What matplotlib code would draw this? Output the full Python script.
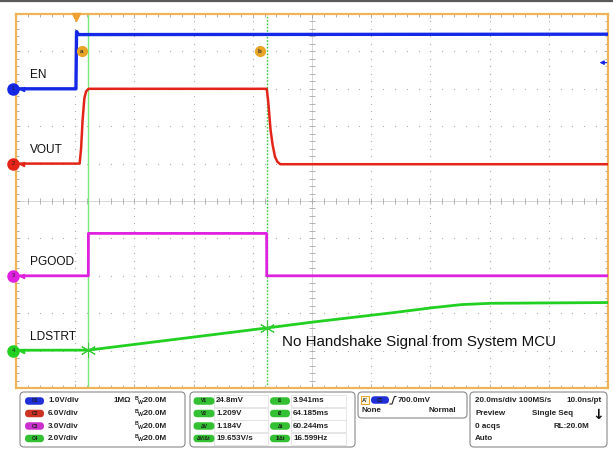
import numpy as np
import matplotlib.pyplot as plt
from matplotlib.patches import FancyBboxPatch, Rectangle

plt.rcParams['font.family'] = ['Liberation Sans', 'DejaVu Sans']

# screen window in ms, trigger at t = 0
T_START = -20.5
T_END = 179.5
MS_PER_DIV = 20.0

channels = ['EN', 'VOUT', 'PGOOD', 'LDSTRT']
volts_per_div = [1.0, 6.0, 3.0, 2.0]
ground_div = [8, 6, 3, 1]  # ground marker, divisions from bottom

# traces (t in ms, V in volts)
en_t = [-20.5, -0.25, -0.05, 0.6, 179.5]
en_v = [0.0, 0.0, 1.53, 1.45, 1.46]

vout_t = [-20.5, 1.0, 1.5, 2.0, 2.6, 3.2, 4.0, 64.2, 64.7, 65.5, 66.2, 67.0, 67.8, 68.8, 179.5]
vout_v = [0.0, 0.0, 2.5, 7.0, 10.5, 11.6, 12.0, 12.0, 10.0, 5.4, 3.0, 1.1, 0.3, -0.1, -0.1]

pgood_t = [-20.5, 3.94, 3.96, 64.18, 64.2, 179.5]
pgood_v = [0.0, 0.0, 3.4, 3.4, 0.0, 0.0]

ldstrt_t = [-20.5, 3.94, 64.19, 80.0, 107.0, 120.0, 130.0, 140.0, 160.0, 179.5]
ldstrt_v = [0.02, 0.025, 1.209, 1.53, 2.03, 2.29, 2.46, 2.53, 2.55, 2.57]

cursor_t = [3.941, 64.185]
cursor_v = [0.0248, 1.209]
cursor_names = ['a', 'b']
trigger_level = 0.7  # V on C1

note = 'No Handshake Signal from System MCU'

# readout panel
ch_pills = ['C1', 'C2', 'C3', 'C4']
ch_scales = ['1.0V/div', '6.0V/div', '3.0V/div', '2.0V/div']
v_names = ['V1', 'V2', 'ΔV', 'ΔV/Δt']
v_vals = ['24.8mV', '1.209V', '1.184V', '19.653V/s']
t_names = ['t1', 't2', 'Δt', '1/Δt']
t_vals = ['3.941ms', '64.185ms', '60.244ms', '16.599Hz']

trace_colors = ['#1428e6', '#e42418', '#e020e0', '#22d022']
pill_colors = ['#1f2fd8', '#cc3322', '#cc30cc', '#33c033']
ORANGE = '#f0b458'

W, H = 613, 449
fig = plt.figure(figsize=(W / 100, H / 100), dpi=100)

# pixel overlay for panel and frame decorations
ov = fig.add_axes([0, 0, 1, 1], zorder=0)
ov.set_xlim(0, W)
ov.set_ylim(H, 0)
ov.axis('off')

ax = fig.add_axes([16 / W, 1 - 388 / H, 592 / W, 374 / H], zorder=1)
ax.set_xlim(T_START, T_END)
ax.set_ylim(0, 10)

# graticule
major_x = T_START + MS_PER_DIV * np.arange(0, 11)
minor_x = T_START + MS_PER_DIV / 5 * np.arange(0, 51)
major_y = np.arange(0, 11)
minor_y = np.arange(0, 10.01, 0.2)
ax.set_xticks(major_x)
ax.set_xticks(minor_x, minor=True)
ax.set_yticks(major_y)
ax.set_yticks(minor_y, minor=True)
ax.tick_params(which='both', direction='in', top=True, right=True,
               labelbottom=False, labelleft=False, color='#a0a0a0', width=0.6)
ax.tick_params(which='major', length=3.2)
ax.tick_params(which='minor', length=2.0)
for s in ax.spines.values():
    s.set_color(ORANGE)
    s.set_linewidth(1.6)

gx, gy = [], []
for k in range(1, 10):
    if k == 5:
        continue
    gx += list(np.full(len(minor_y), major_x[k]))
    gy += list(minor_y)
    gx += list(minor_x)
    gy += list(np.full(len(minor_x), major_y[k]))
ax.scatter(gx, gy, s=0.8, color='#adadad', linewidths=0, zorder=1)

xc = major_x[5]
ax.axvline(xc, color='#d0d0d0', lw=0.6, zorder=1)
ax.axhline(5, color='#d0d0d0', lw=0.6, zorder=1)
ax.plot(np.full(len(minor_y), xc), minor_y, ls='none', marker='_', ms=5, mew=0.6, color='#a8a8a8', zorder=1)
ax.plot(minor_x, np.full(len(minor_x), 5), ls='none', marker='|', ms=5, mew=0.6, color='#a8a8a8', zorder=1)

# cursors
ax.axvline(cursor_t[0], color='#7aea7a', lw=1.0, zorder=2)
ax.axvline(cursor_t[1], color='#3cc83c', lw=1.0, ls=(0, (1.2, 1.2)), zorder=2)
for t, name in zip(cursor_t, cursor_names):
    ax.plot(t - 2.3, 9.0, 'o', ms=7, color='#e8a424', mec='#e8a424', zorder=5)
    ax.text(t - 2.3, 9.0, name, fontsize=4.5, ha='center', va='center', color='#333333',
            fontweight='bold', zorder=6)

# traces
series = [(en_t, en_v), (vout_t, vout_v), (pgood_t, pgood_v), (ldstrt_t, ldstrt_v)]
trace_widths = [2.4, 1.8, 2.0, 2.0]
for i, (t, v) in enumerate(series):
    y = ground_div[i] + np.asarray(v) / volts_per_div[i]
    ax.plot(t, y, color=trace_colors[i], lw=trace_widths[i], zorder=3, solid_joinstyle='round')
    # ground marker
    ax.plot(T_START - 1.0, ground_div[i], 'o', ms=8, color=trace_colors[i], clip_on=False, zorder=6)
    ax.text(T_START - 1.0, ground_div[i], str(i + 1), fontsize=4, ha='center', va='center',
            color='#222222', clip_on=False, zorder=7)
    ax.plot(T_START + 2.0, ground_div[i], marker='<', ms=3, color=trace_colors[i], zorder=6)
    ax.text(T_START + 4.6, ground_div[i] + 0.36, channels[i], fontsize=8.6, ha='left',
            va='center', color='#111111', zorder=6)

# cursor crossings on LDSTRT
ld_y = ground_div[3] + np.asarray(cursor_v) / volts_per_div[3]
ax.plot(cursor_t, ld_y, ls='none', marker=(6, 2, 0), ms=11, mew=0.7, color='#33cc33', zorder=5)

ax.text(69.4, 1.24, note, fontsize=10.9, ha='left', va='center', color='#111111', zorder=6)

# trigger position and level
ax.plot(-0.2, 9.92, marker='v', ms=6, color='#f0a030', clip_on=False, zorder=6)
y_trig = ground_div[0] + trigger_level / volts_per_div[0]
ax.annotate('', xy=(T_END - 3.8, y_trig), xytext=(T_END + 0.5, y_trig),
            arrowprops=dict(arrowstyle='-|>', color=trace_colors[0], lw=0.9,
                            mutation_scale=6), annotation_clip=False, zorder=6)

# top frame line
ov.plot([0, W], [1.3, 1.3], color='#5a5a5a', lw=1.6)

# readout panel
def box(x0, y0, x1, y1):
    ov.add_patch(FancyBboxPatch((x0, y0), x1 - x0, y1 - y0,
                                boxstyle='round,pad=0,rounding_size=4',
                                fc='white', ec='#8a8a8a', lw=0.8))


def pill(xc_, yc, w, h, color, label):
    ov.add_patch(FancyBboxPatch((xc_ - w / 2, yc - h / 2), w, h,
                                boxstyle='round,pad=0,rounding_size=%f' % (h / 2),
                                fc=color, ec='none'))
    ov.text(xc_, yc, label, fontsize=3.6, ha='center', va='center', color='#1a1a1a',
            fontweight='bold')


FS = 5.8
rows = [401, 413.5, 426, 438.5]
box(20, 392, 185, 447)
box(190, 392, 355, 447)
box(358, 392, 467, 418)
box(470, 392, 607, 447)

for r, p, sc, c in zip(rows, ch_pills, ch_scales, pill_colors):
    pill(34.5, r, 19, 7.5, c, p)
    ov.text(48, r, sc, fontsize=FS, fontweight='bold', va='center', color='#222222')
    ov.text(135, r - 2.2, 'B', fontsize=3.8, fontweight='bold', va='center', color='#222222')
    ov.text(137.6, r + 1.3, 'W', fontsize=3.8, fontweight='bold', va='center', color='#222222')
    ov.text(141.5, r, ':20.0M', fontsize=FS, fontweight='bold', va='center', color='#222222')
ov.text(113, rows[0], '1MΩ', fontsize=FS, fontweight='bold', va='center', color='#222222')

for r, vn, vv, tn, tv in zip(rows, v_names, v_vals, t_names, t_vals):
    ov.add_patch(Rectangle((214, r - 6), 54, 12.3, fc='none', ec='#e2e2e2', lw=0.6))
    ov.add_patch(Rectangle((291, r - 6), 55, 12.3, fc='none', ec='#e2e2e2', lw=0.6))
    pill(204, r, 21, 7.5, pill_colors[3], vn)
    pill(280, r, 20, 7.5, pill_colors[3], tn)
    ov.text(216, r, vv, fontsize=FS, fontweight='bold', va='center', color='#222222')
    ov.text(293, r, tv, fontsize=FS, fontweight='bold', va='center', color='#222222')

# trigger box
ov.add_patch(Rectangle((361, 396), 8, 8, fc='#fff4dc', ec='#e8a424', lw=0.7))
ov.text(365, 400, "A'", fontsize=4.2, ha='center', va='center', fontweight='bold', color='#333333')
pill(380, 400, 18, 7.5, pill_colors[0], 'C1')
ov.plot([390, 392, 394.5, 396], [404, 404, 396.5, 396.5], color='#222222', lw=0.8)
ov.text(397.5, 400, '700.0mV', fontsize=FS, fontweight='bold', va='center', color='#222222')
ov.text(362, 410, 'None', fontsize=FS, fontweight='bold', va='center', color='#222222')
ov.text(456, 410, 'Normal', fontsize=FS, fontweight='bold', va='center', ha='right', color='#222222')

# acquisition box
ov.text(475, rows[0], '20.0ms/div 100MS/s', fontsize=FS, fontweight='bold', va='center', color='#222222')
ov.text(602, rows[0], '10.0ns/pt', fontsize=FS, fontweight='bold', va='center', ha='right', color='#222222')
ov.text(475, rows[1], 'Preview', fontsize=FS, fontweight='bold', va='center', color='#222222')
ov.text(532, rows[1], 'Single Seq', fontsize=FS, fontweight='bold', va='center', color='#222222')
ov.text(598, rows[1] + 1, '↓', fontsize=10, fontweight='bold', va='center', ha='center',
        color='#111111', family=['DejaVu Sans'])
ov.text(475, rows[2], '0 acqs', fontsize=FS, fontweight='bold', va='center', color='#222222')
ov.text(589, rows[2], 'RL:20.0M', fontsize=FS, fontweight='bold', va='center', ha='right', color='#222222')
ov.text(475, rows[3], 'Auto', fontsize=FS, fontweight='bold', va='center', color='#222222')

fig.savefig('out.png', dpi=100)
